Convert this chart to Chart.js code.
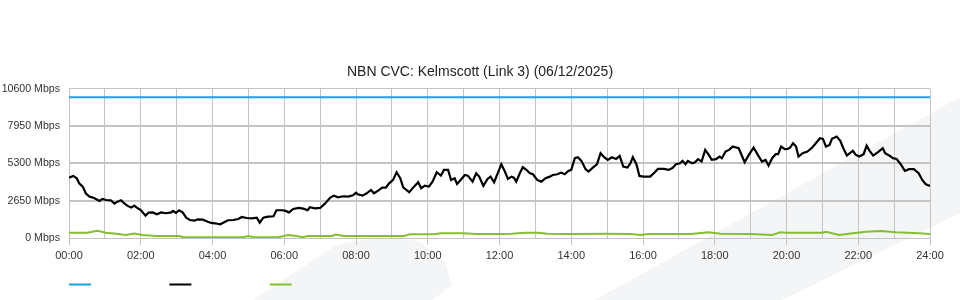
<!DOCTYPE html>
<html>
<head>
<meta charset="utf-8">
<title>NBN CVC: Kelmscott (Link 3)</title>
<script src="https://cdn.jsdelivr.net/npm/chart.js@4.4.1/dist/chart.umd.min.js"></script>
<style>
  html, body { margin: 0; padding: 0; background: #fff; }
  #wrap { width: 960px; height: 300px; }
</style>
</head>
<body>
<div id="wrap"><canvas id="myChart" width="960" height="300"></canvas></div>
<script>
// Datos: tiempo en minutos desde las 00:00, valores en Mbps
const chartTitle = 'NBN CVC: Kelmscott (Link 3) (06/12/2025)';
const hourLabels = ['00:00', '', '02:00', '', '04:00', '', '06:00', '', '08:00', '', '10:00', '', '12:00', '',
  '14:00', '', '16:00', '', '18:00', '', '20:00', '', '22:00', '', '24:00'];
const yTicks = [0, 2650, 5300, 7950, 10600];

const capacityTimes = [0, 1440];
const capacityMbps = [10000, 10000];

const downTimes = [0, 7, 13, 17, 23, 28, 34, 40, 45, 51, 56, 62, 70, 76, 81, 87, 92, 98, 104, 109,
  115, 120, 128, 133, 140, 147, 154, 162, 171, 174, 179, 184, 190, 196, 202, 210, 215, 224, 232, 238,
  244, 253, 261, 266, 275, 283, 289, 297, 306, 314, 319, 325, 333, 342, 347, 356, 361, 368, 375, 384,
  392, 399, 403, 411, 420, 428, 437, 443, 450, 459, 467, 475, 480,
  483, 491, 498, 505, 510, 517, 524, 530, 535, 542, 548, 554, 559, 569, 577, 584, 589, 595, 602, 608,
  615, 622, 627, 634, 639, 645, 649, 655, 662, 667, 675, 681, 686, 693, 700, 705, 711, 720,
  723, 729, 734, 740, 744, 748, 754, 759, 765, 771, 776, 783, 790, 797, 804, 809, 817, 823, 829, 835,
  840, 846, 851, 857, 864, 869, 876, 883, 889, 895, 901, 908, 915, 921, 927, 934, 939, 943, 949, 954, 961,
  972, 978, 985, 995, 1003, 1010, 1015, 1022, 1026, 1031, 1035, 1042, 1047, 1052, 1058, 1064, 1070, 1075,
  1082, 1088, 1092, 1098, 1104, 1110, 1120, 1130, 1137, 1145, 1152, 1159, 1165, 1170, 1176, 1182, 1186,
  1191, 1197, 1202,
  1206, 1211, 1216, 1220, 1227, 1235, 1243, 1249, 1256, 1261, 1266, 1272, 1276, 1284, 1290, 1295, 1301,
  1306, 1311, 1316, 1322, 1329, 1334, 1339, 1345, 1353, 1361, 1365, 1373, 1378, 1384, 1391, 1398, 1405,
  1413, 1421, 1427, 1433, 1440];
const downMbps = [4290, 4410, 4245, 3890, 3650, 3180, 2940, 2870, 2775, 2630, 2775, 2700, 2680, 2440, 2580, 2680, 2470, 2280, 2160, 2300,
  2110, 1990, 1590, 1800, 1820, 1690, 1820, 1760, 1820, 1920, 1780, 1970, 1820, 1440, 1280, 1230, 1330, 1300, 1160, 1070,
  1045, 975, 1160, 1260, 1280, 1350, 1495, 1420, 1400, 1445, 1090, 1445, 1515, 1545, 1970, 1970, 1940, 1820, 2060, 2135,
  2085, 1970, 2185, 2110, 2135, 2440, 2870, 3010, 2895, 2965, 2940, 3040, 3225,
  3110, 3010, 3180, 3415, 3180, 3365, 3580, 3580, 3865, 4125, 4670, 4245, 3605, 3250, 3650, 3960, 3535, 3720, 3650, 4005,
  4670, 4430, 4840, 4840, 4125, 4245, 3840, 4125, 4480, 4430, 4005, 4600, 4360, 3700, 4200, 4360, 3960, 4910,
  5240, 4720, 4200, 4360, 4290, 4005, 4600, 5030, 4840, 4600, 4530, 4125, 4005, 4245, 4360, 4480, 4530, 4645, 4530, 4765,
  4840, 5670, 5740, 5480, 4890, 4720, 5000, 5240, 6025, 5740, 5550, 5740, 5620, 5830, 5070, 5000, 5310, 5740, 5240, 4410, 4360,
  4360, 4600, 4910, 4910, 4840, 5000, 5240, 5310, 5480, 5240, 5480, 5310, 5385, 5600, 5430, 6260, 5905, 5550,
  5600, 5785, 5670, 6140, 6260, 6495, 6380, 5385, 5905, 6425, 5905, 5430, 5550, 5145, 5670, 5955, 5955,
  6495, 6310, 6330,
  6425, 6735, 6495, 5785, 6025, 6140, 6425, 6735, 7090, 7045, 6495, 6615, 7045, 7205, 6900, 6380, 5855,
  6025, 6190, 5905, 5785, 5955, 6565, 6190, 5855, 6095, 6380, 6025, 5830, 5670, 5620, 5240, 4765, 4890,
  4890, 4600, 4125, 3820, 3700];

const upTimes = [0, 30, 48, 62, 79, 95, 109, 123, 146, 184, 192, 239, 291, 300, 310, 350, 366, 381, 390, 400,
  440, 446, 460, 500, 560, 570, 610, 622, 661, 680, 720, 740, 763, 785, 800, 840, 900, 940, 955, 970,
  1000, 1040, 1070, 1090, 1140, 1176, 1190, 1199, 1259, 1266, 1288, 1311, 1333, 1358, 1383, 1422, 1440];
const upMbps = [380, 380, 520, 380, 310, 215, 310, 215, 140, 140, 50, 50, 50, 140, 50, 50, 215, 140, 60, 140,
  140, 240, 140, 140, 140, 260, 260, 330, 330, 285, 285, 300, 380, 380, 300, 285, 300, 285, 215, 280,
  285, 285, 400, 300, 285, 215, 400, 380, 380, 450, 215, 330, 450, 500, 400, 330, 285];

const toPoints = (xs, ys) => xs.map((x, i) => ({ x: x, y: ys[i] }));

const gridColor = '#c4c4c4';

// Marca de agua gris clara del fondo
const fondo = {
  id: 'fondo',
  beforeDraw(chart) {
    const c = chart.ctx;
    c.save();
    c.fillStyle = '#f4f5f7';
    c.beginPath();
    c.moveTo(595, 300);
    c.lineTo(960, 97);
    c.lineTo(960, 213);
    c.lineTo(782, 300);
    c.closePath();
    c.fill();
    c.beginPath();
    c.moveTo(253, 300);
    c.lineTo(335, 246);
    c.quadraticCurveTo(375, 234, 418, 241);
    c.lineTo(445, 262);
    c.lineTo(452, 285);
    c.lineTo(432, 300);
    c.closePath();
    c.fill();
    c.restore();
  }
};

Chart.defaults.font.family = "'Liberation Sans', Arial, sans-serif";
Chart.defaults.font.size = 11;
Chart.defaults.color = '#333';

const ctx = document.getElementById('myChart').getContext('2d');
const myChart = new Chart(ctx, {
  type: 'line',
  data: {
    datasets: [
      {
        label: 'Capacity',
        data: toPoints(capacityTimes, capacityMbps),
        borderColor: '#1ea1de',
        backgroundColor: '#1ea1de',
        borderWidth: 2,
        pointRadius: 0
      },
      {
        label: 'Download',
        data: toPoints(downTimes, downMbps),
        borderColor: '#000000',
        backgroundColor: '#000000',
        borderWidth: 2.2,
        pointRadius: 0
      },
      {
        label: 'Upload',
        data: toPoints(upTimes, upMbps),
        borderColor: '#84bf2f',
        backgroundColor: '#84bf2f',
        borderWidth: 2,
        pointRadius: 0
      }
    ]
  },
  options: {
    responsive: false,
    animation: false,
    layout: { padding: 0 },
    plugins: {
      title: {
        display: true,
        text: chartTitle,
        color: '#222',
        font: { size: 14, weight: 'normal' },
        padding: { top: 64, bottom: 8 }
      },
      legend: {
        position: 'bottom',
        align: 'start',
        fullSize: false,
        labels: {
          boxWidth: 22,
          boxHeight: 2,
          padding: 0,
          font: { family: "'DejaVu Sans Mono', monospace", size: 11 },
          generateLabels: chart => chart.data.datasets.map((ds, i) => ({
            text: '           ',
            fillStyle: ds.borderColor,
            strokeStyle: ds.borderColor,
            lineWidth: 0,
            hidden: false,
            datasetIndex: i
          }))
        }
      },
      tooltip: { enabled: false }
    },
    scales: {
      x: {
        type: 'linear',
        min: 0,
        max: 1440,
        afterBuildTicks: axis => { axis.ticks = hourLabels.map((_, i) => ({ value: i * 60 })); },
        afterFit: axis => { axis.height = 41; },
        ticks: {
          autoSkip: false,
          maxRotation: 0,
          padding: 4,
          callback: v => hourLabels[Math.round(v / 60)]
        },
        grid: {
          color: gridColor,
          tickLength: 7,
          tickColor: c => hourLabels[c.index] ? gridColor : 'rgba(0,0,0,0)'
        },
        border: { color: gridColor }
      },
      y: {
        min: 0,
        max: 10600,
        afterBuildTicks: axis => { axis.ticks = yTicks.map(v => ({ value: v })); },
        afterFit: axis => { axis.width = 69; },
        ticks: {
          padding: 9,
          font: { size: 10.6 },
          callback: v => v + ' Mbps'
        },
        grid: {
          color: gridColor,
          drawTicks: false,
          lineWidth: c => (c.index > 0 && c.index < yTicks.length - 1) ? 2 : 1
        },
        border: { color: gridColor }
      },
      // eje vacío a la derecha: sólo reserva el margen derecho del gráfico
      margen: {
        type: 'linear',
        position: 'right',
        afterFit: axis => { axis.width = 30; },
        grid: { display: false },
        ticks: { display: false },
        border: { display: false }
      }
    }
  },
  plugins: [fondo]
});
</script>
</body>
</html>
